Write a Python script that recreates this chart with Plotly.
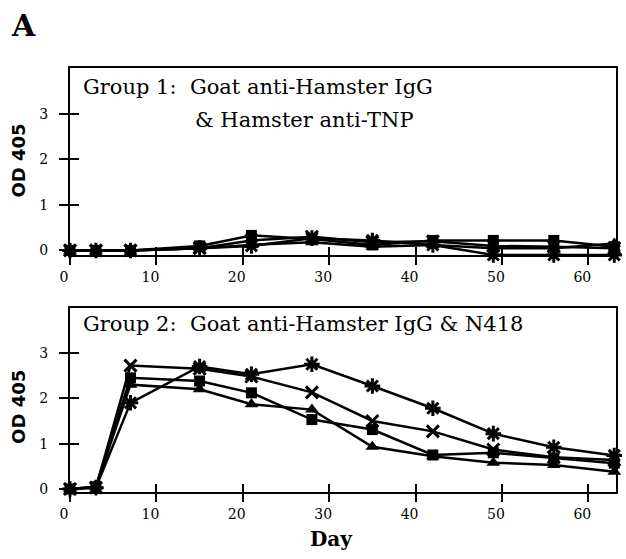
import plotly.graph_objects as go

days = [0, 3, 7, 15, 21, 28, 35, 42, 49, 56, 63]

# Group 1 (top panel)
g1_triangle = [0.0, 0.0, 0.0, 0.05, 0.12, 0.18, 0.08, 0.12, 0.05, 0.05, 0.15]
g1_square = [0.0, 0.0, 0.0, 0.10, 0.33, 0.25, 0.12, 0.22, 0.22, 0.22, 0.08]
g1_x = [0.0, 0.0, 0.0, 0.05, 0.22, 0.30, 0.18, 0.20, 0.10, 0.08, 0.05]
g1_asterisk = [0.0, 0.0, 0.0, 0.05, 0.10, 0.27, 0.22, 0.12, -0.10, -0.10, -0.10]

# Group 2 (bottom panel)
g2_triangle = [0.0, 0.05, 2.30, 2.20, 1.87, 1.75, 0.93, 0.72, 0.58, 0.53, 0.38]
g2_square = [0.0, 0.05, 2.45, 2.38, 2.12, 1.53, 1.31, 0.75, 0.80, 0.68, 0.57]
g2_x = [0.0, 0.03, 2.72, 2.65, 2.48, 2.13, 1.50, 1.27, 0.87, 0.70, 0.64]
g2_asterisk = [0.0, 0.03, 1.90, 2.70, 2.53, 2.75, 2.27, 1.78, 1.22, 0.92, 0.74]

x_ticks = [0, 10, 20, 30, 40, 50, 60]
y_ticks = [0, 1, 2, 3]

title1a = "Group 1:  Goat anti-Hamster IgG"
title1b = "&amp; Hamster anti-TNP"
title2 = "Group 2:  Goat anti-Hamster IgG &amp; N418"

fig = go.Figure()

styles = [
    ("triangle-up", 12, 0),
    ("square", 11, 0),
    ("x-thin", 12, 3),
    ("asterisk", 13, 3),
]

for (xa, ya, series) in [("x", "y", [g1_triangle, g1_square, g1_x, g1_asterisk]),
                         ("x2", "y2", [g2_triangle, g2_square, g2_x, g2_asterisk])]:
    for vals, (sym, size, lw) in zip(series, styles):
        fig.add_trace(go.Scatter(
            x=days, y=vals, xaxis=xa, yaxis=ya, mode="lines+markers",
            line=dict(color="black", width=2.5),
            marker=dict(symbol=sym, size=size, color="black",
                        line=dict(color="black", width=lw)),
            cliponaxis=False, showlegend=False, hoverinfo="skip"))

# dummy traces for overlay axes (inside ticks)
fig.add_trace(go.Scatter(x=[None], y=[None], xaxis="x3", yaxis="y3", showlegend=False, hoverinfo="skip"))
fig.add_trace(go.Scatter(x=[None], y=[None], xaxis="x4", yaxis="y4", showlegend=False, hoverinfo="skip"))

tickfont = dict(family="DejaVu Serif", size=14, color="black")
xr = [0, 63.2]
yr1 = [-0.1, 4.01]
yr2 = [-0.066, 3.99]
d1 = [0.559, 1.0]
d2 = [0.0, 0.434]

common_x = dict(range=xr, tickvals=x_ticks, ticks="outside", ticklen=8, tickwidth=1.5,
                tickcolor="black", showline=True, linewidth=2, linecolor="black",
                mirror=True, showgrid=False, zeroline=False, tickfont=tickfont,
                ticklabelshift=-6)
common_y = dict(tickvals=y_ticks, ticks="outside", ticklen=9, tickwidth=1.5,
                tickcolor="black", showline=True, linewidth=2, linecolor="black",
                mirror=True, showgrid=False, zeroline=False, tickfont=tickfont,
                ticklabelstandoff=8)
inside_x = dict(range=xr, tickvals=x_ticks, ticks="inside", ticklen=8, tickwidth=1.5,
                tickcolor="black", showline=False, showgrid=False, zeroline=False,
                showticklabels=False)
inside_y = dict(tickvals=y_ticks, ticks="inside", ticklen=9, tickwidth=1.5,
                tickcolor="black", showline=False, showgrid=False, zeroline=False,
                showticklabels=False)

fig.update_layout(
    width=626, height=559,
    margin=dict(l=70, r=8, t=68, b=67),
    paper_bgcolor="white", plot_bgcolor="white",
    xaxis=dict(domain=[0, 1], anchor="y", **common_x),
    yaxis=dict(domain=d1, anchor="x", range=yr1, **common_y),
    xaxis2=dict(domain=[0, 1], anchor="y2", **common_x),
    yaxis2=dict(domain=d2, anchor="x2", range=yr2, **common_y),
    xaxis3=dict(overlaying="x", anchor="y", **inside_x),
    yaxis3=dict(overlaying="y", anchor="x", range=yr1, **inside_y),
    xaxis4=dict(overlaying="x2", anchor="y2", **inside_x),
    yaxis4=dict(overlaying="y2", anchor="x2", range=yr2, **inside_y),
)

serif = dict(family="DejaVu Serif", size=21, color="black")
ann = [
    dict(text="<b>A</b>", x=-0.085, y=1.101, xanchor="center", yanchor="middle",
         font=dict(family="DejaVu Serif", size=30, color="black")),
    dict(text=title1a, x=0.021, y=0.956, xanchor="left", yanchor="middle", font=serif),
    dict(text=title1b, x=0.225, y=0.877, xanchor="left", yanchor="middle", font=serif),
    dict(text=title2, x=0.021, y=0.397, xanchor="left", yanchor="middle", font=serif),
    dict(text="<b>OD 405</b>", x=-0.094, y=0.781, textangle=-90, xanchor="center", yanchor="middle",
         font=dict(family="DejaVu Sans", size=18, color="black")),
    dict(text="<b>OD 405</b>", x=-0.094, y=0.20, textangle=-90, xanchor="center", yanchor="middle",
         font=dict(family="DejaVu Sans", size=18, color="black")),
    dict(text="<b>Day</b>", x=0.479, y=-0.111, xanchor="center", yanchor="middle",
         font=dict(family="DejaVu Serif", size=20, color="black")),
]
for a in ann:
    a.update(xref="paper", yref="paper", showarrow=False)
fig.update_layout(annotations=ann)

fig.write_html("out.html", config={"displayModeBar": False},
               post_script="document.body.style.margin='0';")
